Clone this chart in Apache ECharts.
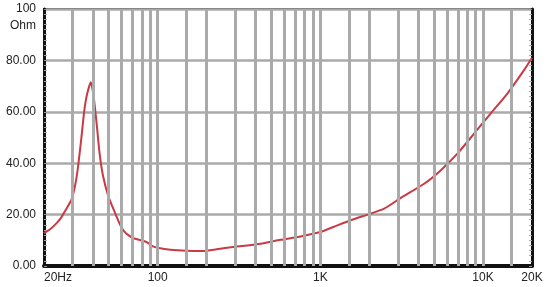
<!DOCTYPE html>
<html>
<head>
<meta charset="utf-8">
<script src="https://cdn.jsdelivr.net/npm/echarts@6/dist/echarts.min.js"></script>
<style>
html,body{margin:0;padding:0;background:#fff;}
#chart{width:548px;height:287px;}
</style>
</head>
<body>
<div id="chart"></div>
<script>
const freqHz = [20,22,24,25.5,27,29.6,31.8,33.7,35.3,36.7,38.8,40.3,42.2,43.8,46,49.8,54.8,58.8,62,66,71,80,86,92,100,120,150,190,230,280,355,430,570,756,1000,1270,1535,2040,2466,3124,4344,5508,6980,8832,11196,14192,17954,20000];
const impedanceOhm = [12.8,14.5,16.8,18.8,21.5,26,35,48,60,66.5,71.5,66.5,55,44.5,35.4,27,20.5,16,13.6,12,10.8,9.9,9.2,7.8,7.1,6.3,5.9,5.8,6.5,7.3,8,8.7,10.2,11.5,13.2,15.8,17.8,20.4,22.3,26.5,32,37.3,43.8,51.6,59.5,67.3,76.4,81];
const xTickValues = [20,100,1000,10000,20000];
const xTickLabels = ['20Hz','100','1K','10K','20K'];
const gridFreqs = [30,40,50,60,70,80,90,100,150,200,300,400,500,600,700,800,900,1000,1500,2000,3000,4000,5000,6000,7000,8000,9000,10000,15000];

const chart = echarts.init(document.getElementById('chart'), null, {renderer:'canvas'});
const font = 'Liberation Sans, Arial, sans-serif';
chart.setOption({
  animation:false,
  backgroundColor:'#fff',
  grid:{left:44,right:16,top:9,bottom:21,show:true,borderColor:'#222',borderWidth:2},
  xAxis:{
    type:'log', logBase:10, min:20, max:20000,
    axisLine:{show:true,lineStyle:{color:'#111',width:4}},
    axisTick:{show:false},
    splitLine:{show:false},
    minorSplitLine:{show:false},
    axisLabel:{
      customValues:xTickValues,
      margin:6, color:'#222', fontSize:12, fontFamily:font,
      alignMinLabel:'left', alignMaxLabel:'center',
      showMinLabel:true, showMaxLabel:true,
      formatter:function(v){
        for(let i=0;i<xTickValues.length;i++){ if(Math.abs(v-xTickValues[i])<1e-6*xTickValues[i]) return xTickLabels[i]; }
        return '';
      }
    }
  },
  yAxis:[{
    type:'value', min:0, max:100, interval:20,
    name:'Ohm', nameLocation:'end', nameGap:-17,
    nameTextStyle:{color:'#222',fontSize:12,fontFamily:font,align:'right',verticalAlign:'middle',padding:[0,8,0,0]},
    axisLine:{show:true,lineStyle:{color:'#111',width:3}},
    axisTick:{show:true,inside:true,length:3,lineStyle:{color:'#999'}},
    minorTick:{show:true,splitNumber:10,length:3,lineStyle:{color:'#aaa'}},
    splitLine:{show:true,lineStyle:{color:'#aaaaaa',width:2.5}},
    axisLabel:{margin:8,color:'#222',fontSize:12,fontFamily:font,
      formatter:function(v){ return v===100 ? '100' : v.toFixed(2); }}
  },{
    type:'value', min:0, max:100, interval:20, position:'right',
    axisLine:{show:true,lineStyle:{color:'#111',width:3}},
    axisTick:{show:true,inside:true,length:3,lineStyle:{color:'#999'}},
    minorTick:{show:true,splitNumber:10,length:3,lineStyle:{color:'#aaa'}},
    splitLine:{show:false},
    axisLabel:{show:false}
  }],
  series:[{
    type:'line', data:[], z:1, silent:true,
    markLine:{
      silent:true, symbol:['none','none'], animation:false,
      label:{show:false},
      lineStyle:{color:'#aaaaaa',width:3,type:'solid'},
      emphasis:{disabled:true},
      data:gridFreqs.map(f=>({xAxis:f}))
    }
  },{
    type:'line', z:3,
    data:freqHz.map((f,i)=>[f,impedanceOhm[i]]),
    showSymbol:false, smooth:0.2,
    lineStyle:{color:'#c93a44',width:2}
  }]
});
</script>
</body>
</html>
